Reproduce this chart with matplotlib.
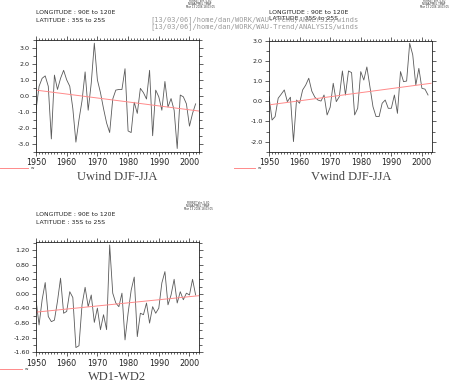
import matplotlib
matplotlib.use("Agg")
import matplotlib.pyplot as plt
from matplotlib.ticker import MultipleLocator, FixedLocator
import numpy as np

years = list(range(1950, 2003))

uwind = [-0.9, 0.6, 1.1, 1.25, 0.6, -2.7, 1.3, 0.4, 1.1, 1.6,
         1.0, 0.6, -0.8, -2.9, -1.5, -0.3, 1.5, -0.9, 0.8, 3.3,
         1.0, 0.2, -0.8, -1.7, -2.3, -0.2, 0.36, 0.4, 0.4, 1.7,
         -2.2, -2.3, -0.4, -1.1, 0.47, 0.2, -0.2, 1.6, -2.5, 0.36,
         -0.06, -0.9, 0.9, -0.7, -0.17, -0.9, -3.3, 0.05, -0.06, -0.5,
         -1.9, -1.1, -0.5]

vwind = [0.23, -0.93, -0.76, 0.15, 0.35, 0.56, -0.02, 0.2, -2.0, 0.06,
         -0.1, 0.56, 0.8, 1.14, 0.5, 0.2, 0.06, 0.01, 0.31, -0.68,
         -0.3, 0.89, -0.02, 0.23, 1.5, 0.31, 1.5, 1.42, -0.68, -0.35,
         1.47, 1.05, 1.7, 0.72, -0.27, -0.76, -0.76, -0.1, 0.06, -0.35,
         -0.35, 0.31, -0.6, 1.47, 0.97, 1.0, 2.87, 2.3, 0.8, 1.63,
         0.64, 0.6, 0.31]

wd = [-0.16, -0.85, -0.16, 0.31, -0.62, -0.76, -0.72, -0.2, 0.43, -0.53,
      -0.48, 0.06, -0.1, -1.47, -1.42, -0.3, 0.18, -0.35, -0.03, -0.78,
      -0.39, -0.98, -0.57, -0.98, 1.34, 0.02, -0.25, -0.35, 0.02, -1.26,
      -0.53, 0.1, 0.46, -1.17, -0.53, -0.57, -0.25, -0.8, -0.35, -0.53,
      -0.39, 0.3, 0.61, -0.3, -0.03, 0.40, -0.25, 0.06, -0.16, 0.02,
      -0.03, 0.40, -0.03]

trend_years = [1950, 2003]
trend_u = [0.36, -0.95]
trend_v = [-0.18, 0.89]
trend_wd = [-0.5, -0.05]

titles = ["Uwind DJF-JJA", "Vwind DJF-JJA", "WD1-WD2"]
header1 = "LONGITUDE : 90E to 120E"
header2 = "LATITUDE : 35S to 25S"
path_txt = "[13/03/06]/home/dan/WORK/WAU-Trend/ANALYSIS/winds"
stamp = ["FERRET Ver. 5.80", "NOAA/PMEL TMAP", "Mar 13 2006 18:03:05"]

W, H = 449, 382
fig = plt.figure(figsize=(W / 100, H / 100), dpi=100)
fig.patch.set_facecolor("white")


def px(x, y):
    return x / W, 1 - y / H


def make_ax(x0, y0, x1, y1):
    return fig.add_axes([x0 / W, 1 - y1 / H, (x1 - x0) / W, (y1 - y0) / H])


def style(ax, ylim, major, minor, fmt):
    ax.set_xlim(1950, 2003.2)
    ax.set_ylim(*ylim)
    for s in ax.spines.values():
        s.set_linewidth(0.6)
        s.set_color("#222222")
    ax.xaxis.set_major_locator(MultipleLocator(10))
    ax.xaxis.set_minor_locator(MultipleLocator(1))
    ax.yaxis.set_major_locator(MultipleLocator(major))
    ax.yaxis.set_minor_locator(MultipleLocator(minor))
    ax.tick_params(axis="both", which="both", direction="out", width=0.5,
                   colors="#222222", top=True, right=True,
                   labeltop=False, labelright=False)
    ax.tick_params(axis="x", which="major", length=3, labelsize=5.8, pad=1.5)
    ax.tick_params(axis="x", which="minor", length=1.6)
    ax.tick_params(axis="y", which="major", length=3, labelsize=4.6, pad=1.5)
    ax.tick_params(axis="y", which="minor", length=2)
    ax.yaxis.set_major_formatter(matplotlib.ticker.FuncFormatter(
        lambda v, p: fmt.format(v)))


line_kw = dict(color="#5a5a5a", lw=0.6)
trend_kw = dict(color="#ff8a8a", lw=0.7)

ax1 = make_ax(36, 40, 199.3, 151.7)
ax1.plot(years, uwind, **line_kw)
ax1.plot(trend_years, trend_u, **trend_kw)
style(ax1, (-3.5, 3.5), 1.0, 0.5, "{:.1f}")

ax2 = make_ax(269, 40.7, 431.7, 151.7)
ax2.plot(years, vwind, **line_kw)
ax2.plot(trend_years, trend_v, **trend_kw)
style(ax2, (-2.5, 3.0), 1.0, 0.5, "{:.1f}")

ax3 = make_ax(36, 241.7, 199.3, 352.3)
ax3.plot(years, wd, **line_kw)
ax3.plot(trend_years, trend_wd, **trend_kw)
style(ax3, (-1.6, 1.43), 0.4, 0.2, "{:.2f}")
ax3.yaxis.set_major_locator(FixedLocator([-1.6, -1.2, -0.8, -0.4, 0.0, 0.4, 0.8, 1.2]))

# headers
for (hx, hy) in [(36, 13), (269, 12), (36, 215)]:
    fig.text(*px(hx, hy), header1, fontsize=4.4, color="#222222", va="center", ha="left")
    fig.text(*px(hx, hy + 7), header2, fontsize=4.4, color="#222222", va="center", ha="left")

# path text (gray)
for py in (19.5, 26.5):
    fig.text(*px(150, py), path_txt, fontsize=5.0, color="#9a9a9a",
             family="DejaVu Sans Mono", va="center", ha="left")

# stamps
for (sx, sy) in [(200, 1.5), (434, 1.5), (198, 203.5)]:
    for i, s in enumerate(stamp):
        fig.text(*px(sx, sy + i * 2.8), s, fontsize=1.9, color="#333333",
                 va="center", ha="center")

# titles
for (tx, ty), t in zip([(117.5, 177), (351, 177), (117.5, 377)], titles):
    fig.text(*px(tx, ty), t, fontsize=9, color="#444444",
             family="Liberation Serif", va="center", ha="center")

# legends
for (x0, x1, ly) in [(0, 28, 168), (234, 255, 167.7), (0, 22, 369)]:
    fig.add_artist(plt.Line2D([x0 / W, x1 / W], [1 - ly / H, 1 - ly / H],
                              transform=fig.transFigure, **trend_kw))
    fig.text(*px(x1 + 3, ly), "w", fontsize=3, color="#333333", va="center", ha="left")

fig.savefig("out.png", dpi=100, facecolor="white")
